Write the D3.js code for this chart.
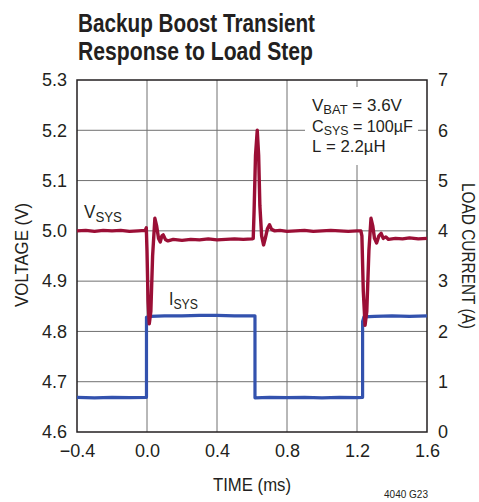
<!DOCTYPE html>
<html>
<head>
<meta charset="utf-8">
<script src="https://cdn.jsdelivr.net/npm/d3@7"></script>
<style>
  html, body { margin: 0; padding: 0; background: #fff; }
  svg { display: block; }
  text { font-family: "Liberation Sans", Arial, sans-serif; fill: #231f20; }
</style>
</head>
<body>
<svg id="chart" width="479" height="502"></svg>
<script>
// ---- data ----
const titleLines = ["Backup Boost Transient", "Response to Load Step"];
const xTicks = [-0.4, 0.0, 0.4, 0.8, 1.2, 1.6];
const yVTicks = [4.6, 4.7, 4.8, 4.9, 5.0, 5.1, 5.2, 5.3];
const yATicks = [0, 1, 2, 3, 4, 5, 6, 7];

// VSYS (time ms, volts)
const vsysT = [-0.4, -0.35, -0.3, -0.25, -0.2, -0.15, -0.1, -0.05, -0.01, -0.004, 0.0, 0.006, 0.013, 0.022, 0.032, 0.045, 0.055, 0.066, 0.076, 0.085, 0.093, 0.105, 0.12, 0.15, 0.2, 0.25, 0.3, 0.35, 0.4, 0.45, 0.5, 0.55, 0.6, 0.607, 0.612, 0.62, 0.63, 0.638, 0.645, 0.655, 0.666, 0.676, 0.688, 0.7, 0.712, 0.73, 0.76, 0.8, 0.85, 0.9, 0.95, 1.0, 1.05, 1.1, 1.15, 1.2, 1.222, 1.228, 1.236, 1.246, 1.256, 1.268, 1.28, 1.29, 1.3, 1.312, 1.325, 1.338, 1.35, 1.365, 1.38, 1.42, 1.46, 1.5, 1.55, 1.6];
const vsysV = [5.0, 5.001, 4.999, 5.001, 5.0, 5.001, 4.999, 5.0, 5.001, 5.006, 4.96, 4.86, 4.815, 4.84, 4.95, 5.025, 5.01, 4.985, 4.978, 4.99, 4.992, 4.983, 4.98, 4.983, 4.981, 4.983, 4.982, 4.984, 4.982, 4.983, 4.984, 4.983, 4.984, 4.985, 5.04, 5.15, 5.2, 5.15, 5.05, 4.99, 4.972, 4.985, 5.004, 5.012, 5.003, 5.0, 5.001, 4.999, 5.0, 5.001, 4.999, 5.0, 5.001, 5.0, 4.999, 5.0, 5.0, 4.99, 4.88, 4.812, 4.84, 4.96, 5.025, 5.01, 4.985, 4.976, 4.99, 4.995, 4.985, 4.988, 4.983, 4.985, 4.984, 4.986, 4.984, 4.985];

// ISYS (time ms, amps)
const isysT = [-0.4, -0.3, -0.2, -0.1, -0.003, -0.003, 0.02, 0.1, 0.2, 0.3, 0.4, 0.5, 0.617, 0.617, 0.7, 0.8, 0.9, 1.0, 1.1, 1.2, 1.232, 1.232, 1.24, 1.3, 1.4, 1.5, 1.6];
const isysA = [0.69, 0.68, 0.69, 0.685, 0.69, 2.28, 2.3, 2.31, 2.31, 2.32, 2.32, 2.31, 2.31, 0.68, 0.69, 0.685, 0.69, 0.68, 0.69, 0.685, 0.69, 2.2, 2.29, 2.3, 2.31, 2.3, 2.31];

// ---- layout ----
const svg = d3.select("#chart");
const L = 77, R = 427, T = 80, B = 432;
const x = d3.scaleLinear().domain([-0.4, 1.6]).range([L, R]);
const yV = d3.scaleLinear().domain([4.6, 5.3]).range([B, T]);
const yA = d3.scaleLinear().domain([0, 7]).range([B, T]);
const fmt1 = d3.format(".1f");

// squeeze a text horizontally to a target width (condensed look)
function squeeze(sel, px, py, target) {
  const w = sel.node().getComputedTextLength();
  const s = target / w;
  sel.attr("x", null).attr("y", null)
     .attr("transform", `translate(${px},${py}) scale(${s},1)`);
}

// title
const titleW = [237, 235];
svg.selectAll("text.title").data(titleLines).join("text")
  .attr("class", "title")
  .attr("x", 78).attr("y", (d, i) => 32 + i * 28)
  .attr("textLength", (d, i) => titleW[i]).attr("lengthAdjust", "spacingAndGlyphs")
  .style("font-size", "25px").style("font-weight", "bold")
  .text(d => d);

// grid
const grid = svg.append("g").attr("stroke", "#707070").attr("stroke-width", 1);
grid.selectAll("line.v").data(xTicks.slice(1, -1)).join("line")
  .attr("x1", d => x(d)).attr("x2", d => x(d)).attr("y1", T).attr("y2", B);
grid.selectAll("line.h").data(yVTicks.slice(1, -1)).join("line")
  .attr("x1", L).attr("x2", R).attr("y1", d => yV(d)).attr("y2", d => yV(d));

// annotation background box
svg.append("rect").attr("x", 305).attr("y", 87).attr("width", 113).attr("height", 78).attr("fill", "#fff");

// axes (labels only)
const axL = svg.append("g").attr("transform", `translate(${L},0)`)
  .call(d3.axisLeft(yV).tickValues(yVTicks).tickFormat(fmt1).tickSize(0).tickPadding(10));
const axR = svg.append("g").attr("transform", `translate(${R},0)`)
  .call(d3.axisRight(yA).tickValues(yATicks).tickFormat(d3.format("d")).tickSize(0).tickPadding(11));
const axB = svg.append("g").attr("transform", `translate(0,${B})`)
  .call(d3.axisBottom(x).tickValues(xTicks).tickFormat(fmt1).tickSize(0).tickPadding(12));
[axL, axR, axB].forEach(a => {
  a.select(".domain").remove();
  a.selectAll("text").style("font-size", "18px").attr("fill", "#231f20")
    .style("font-family", '"Liberation Sans", Arial, sans-serif');
});

// frame
svg.append("rect").attr("x", L).attr("y", T).attr("width", R - L).attr("height", B - T)
  .attr("fill", "none").attr("stroke", "#231f20").attr("stroke-width", 1.5);

// data lines
const vsys = vsysT.map((t, i) => [t, vsysV[i]]);
const isys = isysT.map((t, i) => [t, isysA[i]]);
svg.append("path").datum(isys)
  .attr("d", d3.line().x(d => x(d[0])).y(d => yA(d[1])))
  .attr("fill", "none").attr("stroke", "#3352ae").attr("stroke-width", 3.2).attr("stroke-linejoin", "round");
svg.append("path").datum(vsys)
  .attr("d", d3.line().x(d => x(d[0])).y(d => yV(d[1])))
  .attr("fill", "none").attr("stroke", "#9b0f36").attr("stroke-width", 3.4).attr("stroke-linejoin", "round");

// series labels
function subLabel(px, py, main, sub, target) {
  const t = svg.append("text").style("font-size", "18px");
  t.append("tspan").text(main);
  t.append("tspan").attr("dy", 4).style("font-size", "14px").text(sub);
  squeeze(t, px, py, target);
  return t;
}
subLabel(84, 218, "V", "SYS", 38);
subLabel(169, 305, "I", "SYS", 29);

// annotation
const ann = [["V", "BAT", " = 3.6V", 90], ["C", "SYS", " = 100µF", 101], ["L", "", " = 2.2µH", 73]];
ann.forEach((a, i) => {
  const t = svg.append("text").style("font-size", "17px");
  t.append("tspan").text(a[0]);
  if (a[1]) {
    t.append("tspan").attr("dy", 3).style("font-size", "13px").text(a[1]);
    t.append("tspan").attr("dy", -3).text(a[2]);
  } else {
    t.append("tspan").text(a[2]);
  }
  squeeze(t, 312, 111 + i * 20.5, a[3]);
});

// axis titles
svg.append("text").attr("text-anchor", "middle").style("font-size", "18px")
  .attr("textLength", 104).attr("lengthAdjust", "spacingAndGlyphs")
  .attr("transform", `translate(28,255) rotate(-90)`).text("VOLTAGE (V)");
svg.append("text").attr("text-anchor", "middle").style("font-size", "18px")
  .attr("textLength", 146).attr("lengthAdjust", "spacingAndGlyphs")
  .attr("transform", `translate(462,256) rotate(90)`).text("LOAD CURRENT (A)");
svg.append("text").attr("x", 252).attr("y", 491)
  .attr("text-anchor", "middle").style("font-size", "18px")
  .attr("textLength", 78).attr("lengthAdjust", "spacingAndGlyphs")
  .text("TIME (ms)");

// figure id
svg.append("text").attr("x", 428).attr("y", 498).attr("text-anchor", "end")
  .style("font-size", "10px").text("4040 G23");
</script>
</body>
</html>
